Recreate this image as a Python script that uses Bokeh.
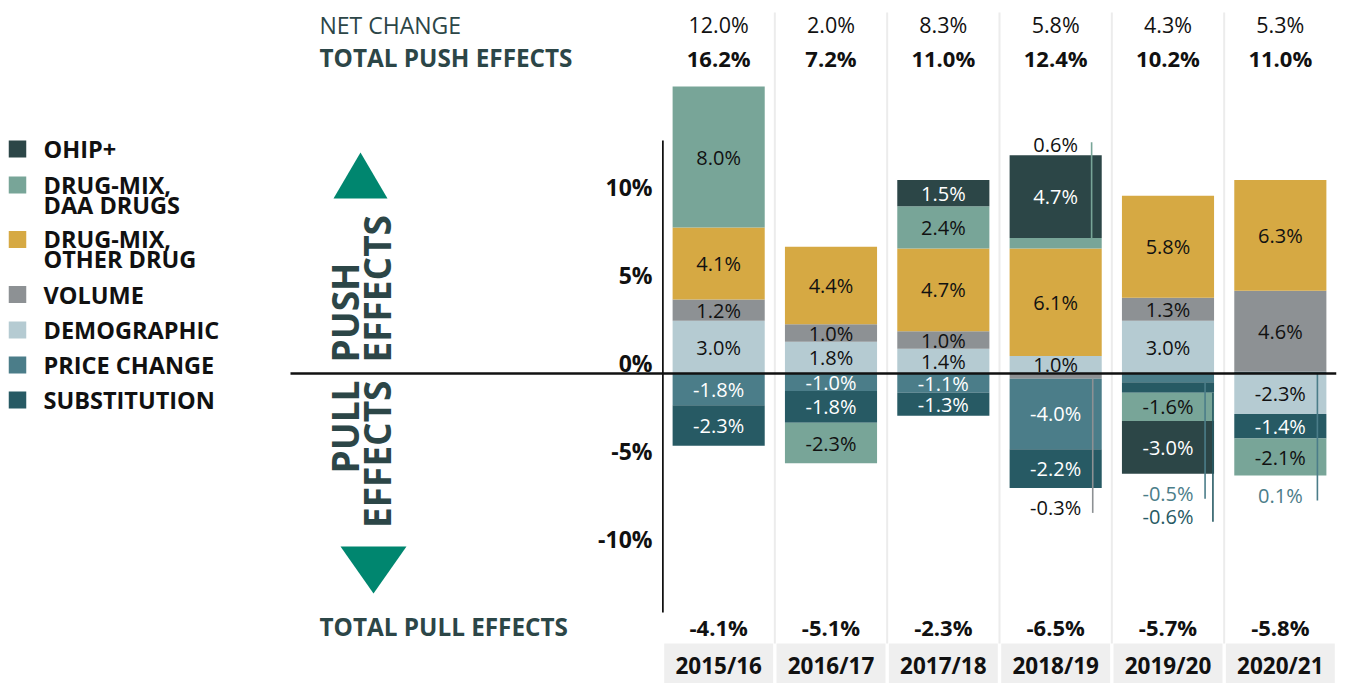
from math import pi
from bokeh.plotting import figure
from bokeh.layouts import row
from bokeh.models import (ColumnDataSource, Range1d, FactorRange, FixedTicker, Span)
from bokeh.core.properties import value
from bokeh.embed import file_html
from bokeh.resources import INLINE

# ---------------- data ----------------
years = ["2015/16", "2016/17", "2017/18", "2018/19", "2019/20", "2020/21"]
net_change = [12.0, 2.0, 8.3, 5.8, 4.3, 5.3]
total_push = [16.2, 7.2, 11.0, 12.4, 10.2, 11.0]
total_pull = [-4.1, -5.1, -2.3, -6.5, -5.7, -5.8]
y_ticks = [-10, -5, 0, 5, 10]

series_keys = ["ohip", "daa", "other", "volume", "demographic", "price", "substitution"]
series_names = ["OHIP+", "DRUG-MIX,\nDAA DRUGS", "DRUG-MIX,\nOTHER DRUG", "VOLUME",
                "DEMOGRAPHIC", "PRICE CHANGE", "SUBSTITUTION"]
series_colors = ["#2c4647", "#78a598", "#d6a943", "#8d9194", "#b5cbd2", "#4b7d89", "#275a64"]

ohip = [0.0, 0.0, 1.5, 4.7, -3.0, 0.0]
daa = [8.0, -2.3, 2.4, 0.6, -1.6, -2.1]
other = [4.1, 4.4, 4.7, 6.1, 5.8, 6.3]
volume = [1.2, 1.0, 1.0, -0.3, 1.3, 4.6]
demographic = [3.0, 1.8, 1.4, 1.0, 3.0, -2.3]
price = [-1.8, -1.0, -1.1, -4.0, -0.5, 0.1]
substitution = [-2.3, -1.8, -1.3, -2.2, -0.6, -1.4]

vals = dict(ohip=ohip, daa=daa, other=other, volume=volume,
            demographic=demographic, price=price, substitution=substitution)
color_of = dict(zip(series_keys, series_colors))
dark = {"ohip", "price", "substitution"}

pos_order = ["price", "demographic", "volume", "other", "daa", "ohip"]
neg_order = ["volume", "demographic", "price", "substitution", "daa", "ohip"]

# ---------------- geometry helpers ----------------
W, H = 1349, 683
LEFT_W = 662          # left panel (legend, titles, tick labels)
ZERO_PAGE_Y = 373
PX = 1 / 17.6         # percent per pixel


def yd(page_y):
    return (ZERO_PAGE_Y - page_y) * PX


INK = "#111111"
SLATE = "#2c4647"
ARROW = "#00866f"
FONT = value("Open Sans")

y_range = Range1d(yd(H), yd(0))

# ================= left panel =================
L = figure(width=LEFT_W, height=H, x_range=Range1d(0, LEFT_W), y_range=y_range,
           output_backend="svg", toolbar_location=None, x_axis_location=None,
           y_axis_location=None, min_border=0)
L.outline_line_color = None
L.grid.visible = False

# zero line through the left area
L.segment(x0=[290], y0=[0], x1=[LEFT_W], y1=[0], line_color=INK, line_width=2.5)

# tick labels of the value axis
L.text(x=[652] * len(y_ticks), y=y_ticks, text=[f"{t}%" for t in y_ticks], text_font=FONT,
       text_font_style="bold", text_font_size="23px", text_color=INK, text_align="right",
       text_baseline="middle", y_offset=-11)

# row titles
L.text(x=[319], y=[yd(24)], text=["NET CHANGE"], text_font=FONT, text_font_size="23px",
       text_color=SLATE, text_align="left", text_baseline="middle")
L.text(x=[319, 319], y=[yd(57), yd(626)], text=["TOTAL PUSH EFFECTS", "TOTAL PULL EFFECTS"],
       text_font=FONT, text_font_style="bold", text_font_size="24.3px", text_color=SLATE,
       text_align="left", text_baseline="middle")

# legend
sq_centers = [148.5, 184.5, 239, 294, 329.5, 364.5, 399.5]
L.rect(x=[17] * 7, y=[yd(c) for c in sq_centers], width=17.5, height=17 * PX,
       fill_color=series_colors, line_color=None)
nlines = [n.count("\n") + 1 for n in series_names]
L.text(x=[43] * 7, y=[yd(c + 9.75 * (n - 1)) for c, n in zip(sq_centers, nlines)],
       text=series_names, text_font=FONT, text_font_style="bold", text_font_size="23.5px",
       text_color=INK, text_align="left", text_baseline="middle", text_line_height=0.62)

# push / pull arrows and titles
L.patches(xs=[[333, 387, 360], [340, 406, 373]],
          ys=[[yd(198), yd(198), yd(152)], [yd(546), yd(546), yd(593)]],
          fill_color=ARROW, line_color=None)
L.text(x=[360], y=[yd(362)], text=["PUSH\nEFFECTS"], angle=pi / 2, text_font=FONT,
       text_font_style="bold", text_font_size="37px", text_color=SLATE, text_align="left",
       text_baseline="middle", text_line_height=0.62)
L.text(x=[360], y=[yd(380)], text=["PULL\nEFFECTS"], angle=pi / 2, text_font=FONT,
       text_font_style="bold", text_font_size="37px", text_color=SLATE, text_align="right",
       text_baseline="middle", text_line_height=0.62)

# ================= main chart =================
p = figure(width=W - LEFT_W, height=H, x_range=FactorRange(*years, range_padding=0),
           y_range=y_range, output_backend="svg", toolbar_location=None,
           x_axis_location=None, min_border_left=0, min_border_right=13,
           min_border_top=0, min_border_bottom=0)
p.outline_line_color = None
p.grid.visible = False

ax = p.yaxis[0]
ax.ticker = FixedTicker(ticks=[])
ax.bounds = (yd(612), yd(140))
ax.axis_line_width = 2.5
ax.axis_line_color = INK
ax.major_tick_line_color = None
ax.minor_tick_line_color = None
ax.major_label_standoff = 0
ax.major_tick_out = 0
ax.minor_tick_out = 0

# column separators
p.segment(x0=[1, 2, 3, 4, 5], y0=[yd(12)] * 5, x1=[1, 2, 3, 4, 5], y1=[yd(643)] * 5,
          line_color="#ececec", line_width=2)

# bars
src = {"year": years}
for k in series_keys:
    src["p_" + k] = [max(v, 0) for v in vals[k]]
    src["n_" + k] = [min(v, 0) for v in vals[k]]
source = ColumnDataSource(src)
BAR_W = 0.82
p.vbar_stack(["p_" + k for k in pos_order], x="year", width=BAR_W, source=source,
             fill_color=[color_of[k] for k in pos_order], line_color=None)
p.vbar_stack(["n_" + k for k in neg_order], x="year", width=BAR_W, source=source,
             fill_color=[color_of[k] for k in neg_order], line_color=None)

# segment labels
ins = dict(x=[], y=[], t=[], c=[])
outs = dict(x=[], y=[], t=[], c=[])
lines = dict(x0=[], y0=[], x1=[], y1=[], c=[])
for i, yr in enumerate(years):
    segs = []
    base = 0.0
    for k in pos_order:
        v = vals[k][i]
        if v > 0:
            segs.append((k, v, base, base + v))
            base += v
    top = base
    base = 0.0
    for k in neg_order:
        v = vals[k][i]
        if v < 0:
            segs.append((k, v, base, base + v))
            base += v
    bottom = base
    nbelow = 0
    for k, v, s0, s1 in segs:
        txt = f"{v:.1f}%"
        if abs(v) >= 0.95:
            ins["x"].append(yr); ins["y"].append((s0 + s1) / 2); ins["t"].append(txt)
            ins["c"].append("white" if k in dark else INK)
            continue
        tc = color_of[k] if k in dark else INK
        if v > 0 and s0 > 0:
            ly = top + 11 * PX
            outs["x"].append(yr); outs["y"].append(ly); outs["t"].append(txt); outs["c"].append(tc)
            xx = i + 0.5 + 0.32
            lines["x0"].append(xx); lines["x1"].append(xx)
            lines["y0"].append(s1); lines["y1"].append(ly + 2 * PX); lines["c"].append(color_of[k])
        else:
            ly = bottom - (20 + 23 * nbelow) * PX
            outs["x"].append(yr); outs["y"].append(ly); outs["t"].append(txt); outs["c"].append(tc)
            xx = i + 0.5 + 0.33 + 0.07 * nbelow
            start = s1 if v < 0 else 0.0
            lines["x0"].append(xx); lines["x1"].append(xx)
            lines["y0"].append(start); lines["y1"].append(ly - 5 * PX); lines["c"].append(color_of[k])
            nbelow += 1

p.segment(x0="x0", y0="y0", x1="x1", y1="y1", line_color="c", line_width=1.6,
          source=ColumnDataSource(lines))
p.text(x="x", y="y", text="t", text_color="c", source=ColumnDataSource(ins),
       text_font=FONT, text_font_size="20px", text_align="center", text_baseline="middle")
p.text(x="x", y="y", text="t", text_color="c", source=ColumnDataSource(outs),
       text_font=FONT, text_font_size="20px", text_align="center", text_baseline="middle")

# zero line
p.add_layout(Span(location=0, dimension="width", line_color=INK, line_width=2.5))

# header / footer rows
p.text(x=years, y=[yd(24)] * 6, text=[f"{v:.1f}%" for v in net_change], text_font=FONT,
       text_font_size="21.5px", text_color=INK, text_align="center", text_baseline="middle")
p.text(x=years, y=[yd(57)] * 6, text=[f"{v:.1f}%" for v in total_push], text_font=FONT,
       text_font_style="bold", text_font_size="22px", text_color=INK, text_align="center",
       text_baseline="middle")
p.text(x=years, y=[yd(626)] * 6, text=[f"{v:.1f}%" for v in total_pull], text_font=FONT,
       text_font_style="bold", text_font_size="22px", text_color=INK, text_align="center",
       text_baseline="middle")
p.rect(x=years, y=[yd(663)] * 6, width=0.97, height=40 * PX, fill_color="#efefef", line_color=None)
p.text(x=years, y=[yd(665)] * 6, text=years, text_font=FONT, text_font_style="bold",
       text_font_size="22.5px", text_color=INK, text_align="center", text_baseline="middle")

layout = row(L, p, spacing=0)
open("out.html", "w").write(file_html(layout, INLINE))
